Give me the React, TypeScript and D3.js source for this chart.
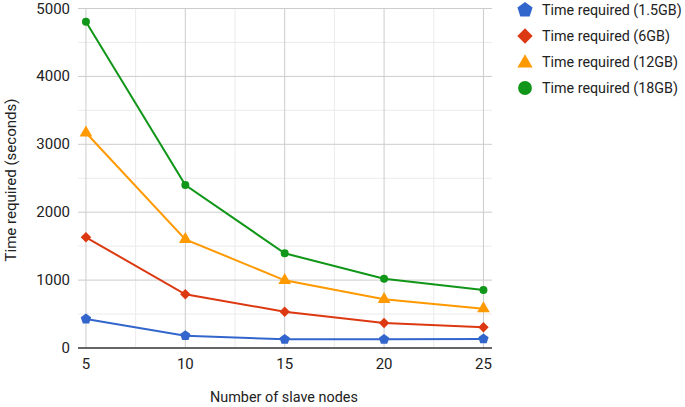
import React, { useRef, useEffect } from 'react';
import * as d3 from 'd3';

const nodes = [5, 10, 15, 20, 25];
const t15 = [427, 181, 128, 128, 133];
const t6 = [1630, 791, 535, 368, 305];
const t12 = [3170, 1600, 997, 717, 579];
const t18 = [4806, 2400, 1395, 1020, 854];

const seriesNames = ['Time required (1.5GB)', 'Time required (6GB)', 'Time required (12GB)', 'Time required (18GB)'];
const seriesColors = ['#3366cc', '#dc3912', '#ff9900', '#109618'];
const yTicks = [0, 1000, 2000, 3000, 4000, 5000];

// pentagon symbol, d3 has none
const pentagon = {
  draw(ctx: any, size: number) {
    const r = Math.sqrt(size / 2.378);
    for (let k = 0; k < 5; k++) {
      const a = -Math.PI / 2 + (k * 2 * Math.PI) / 5;
      if (k === 0) ctx.moveTo(r * Math.cos(a), r * Math.sin(a));
      else ctx.lineTo(r * Math.cos(a), r * Math.sin(a));
    }
    ctx.closePath();
  },
};
const seriesShapes = [pentagon, d3.symbolDiamond2 ?? d3.symbolDiamond, d3.symbolTriangle, d3.symbolCircle];

const App = () => {
  const svgRef = useRef<SVGSVGElement>(null);
  useEffect(() => {
    d3.select(svgRef.current).selectAll('*').remove();
    const svg = d3.select(svgRef.current);
    const font = 'Roboto, Arial, sans-serif';

    const x = d3.scaleLinear().domain([4.6, 25.43]).range([78, 492]);
    const y = d3.scaleLinear().domain([0, 5000]).range([348, 8.5]);

    // minor grid
    const g = svg.append('g');
    d3.range(500, 5000, 1000).forEach((v) => {
      g.append('line').attr('x1', 78).attr('x2', 492).attr('y1', y(v)).attr('y2', y(v))
        .attr('stroke', '#ebebeb').attr('stroke-width', 1);
    });
    d3.range(7.5, 25, 5).forEach((v) => {
      g.append('line').attr('x1', x(v)).attr('x2', x(v)).attr('y1', y(5000)).attr('y2', y(0))
        .attr('stroke', '#ebebeb').attr('stroke-width', 1);
    });
    // major grid
    yTicks.slice(1).forEach((v) => {
      g.append('line').attr('x1', 78).attr('x2', 492).attr('y1', y(v)).attr('y2', y(v))
        .attr('stroke', '#cccccc').attr('stroke-width', 1);
    });
    nodes.forEach((v) => {
      g.append('line').attr('x1', x(v)).attr('x2', x(v)).attr('y1', y(5000)).attr('y2', y(0))
        .attr('stroke', '#cccccc').attr('stroke-width', 1);
    });
    g.append('line').attr('x1', 78).attr('x2', 492).attr('y1', y(0)).attr('y2', y(0))
      .attr('stroke', '#333333').attr('stroke-width', 1.5);

    // tick labels
    yTicks.forEach((v) => {
      svg.append('text').attr('x', 70).attr('y', y(v) + 5).attr('text-anchor', 'end')
        .attr('font-family', font).attr('font-size', 15).attr('fill', '#222').text(v);
    });
    nodes.forEach((v) => {
      svg.append('text').attr('x', x(v)).attr('y', 369).attr('text-anchor', 'middle')
        .attr('font-family', font).attr('font-size', 15).attr('fill', '#222').text(v);
    });

    svg.append('text').attr('x', 210).attr('y', 402)
      .attr('font-family', font).attr('font-size', 14.4).attr('fill', '#222').text('Number of slave nodes');
    svg.append('text').attr('transform', 'translate(16,180) rotate(-90)').attr('text-anchor', 'middle')
      .attr('font-family', font).attr('font-size', 15).attr('fill', '#222').text('Time required (seconds)');

    const all = [t15, t6, t12, t18];
    const line = d3.line<number>().x((_, i) => x(nodes[i])).y((d) => y(d));
    all.forEach((vals, si) => {
      svg.append('path').datum(vals).attr('d', line).attr('fill', 'none')
        .attr('stroke', seriesColors[si]).attr('stroke-width', 2);
      const sym = d3.symbol().type(seriesShapes[si] as any).size(si === 3 ? 50 : 70);
      svg.selectAll(null).data(vals).enter().append('path')
        .attr('d', sym)
        .attr('transform', (d, i) => `translate(${x(nodes[i])},${y(d)})`)
        .attr('fill', seriesColors[si]);
    });

    // legend
    seriesNames.forEach((name, i) => {
      const ly = 10 + i * 26;
      svg.append('path').attr('d', d3.symbol().type(seriesShapes[i] as any).size(i === 2 ? 100 : 150))
        .attr('transform', `translate(525,${ly + (i === 2 ? 1 : 0)})`).attr('fill', seriesColors[i]);
      svg.append('text').attr('x', 542).attr('y', ly + 5)
        .attr('font-family', font).attr('font-size', 14.3).attr('fill', '#222').text(name);
    });
  }, []);

  return <svg ref={svgRef} width={685} height={407} style={{ position: 'absolute', left: 0, top: 0 }}></svg>;
};

export default App;
